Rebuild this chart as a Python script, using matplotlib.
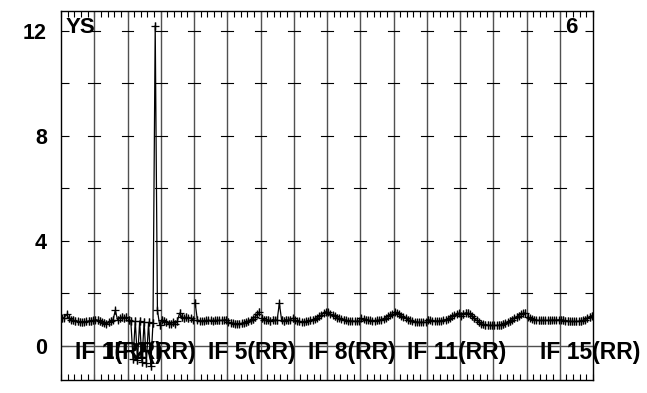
import matplotlib
matplotlib.use("Agg")
import matplotlib.pyplot as plt
import numpy as np

plt.rcParams['font.family'] = ['Liberation Sans', 'DejaVu Sans']
plt.rcParams['font.weight'] = 'bold'

# amplitude per channel for each IF (15 channels each)
if01 = [1.05, 1.08, 1.2, 1.05, 1.0, 0.98, 0.95, 0.93, 0.92, 0.9, 0.92, 0.93, 0.95, 0.95, 0.97]
if02 = [1.0, 0.98, 0.95, 0.9, 0.88, 0.85, 0.9, 0.95, 1.0, 1.35, 1.0, 1.05, 1.1, 1.05, 1.1]
if03 = [1.0, 0.95, -0.5, 0.95, -0.55, 0.95, -0.6, 0.92, -0.65, 0.9, -0.75, 0.88, 12.2, 1.35, 0.8]
if04 = [1.0, 0.95, 0.9, 0.85, 0.85, 0.9, 0.85, 0.95, 1.25, 1.1, 1.05, 1.1, 1.05, 1.05, 1.0]
if05 = [1.65, 1.0, 0.95, 0.95, 0.95, 0.97, 0.97, 0.97, 0.95, 0.97, 0.97, 0.97, 0.97, 0.98, 1.0]
if06 = [0.92, 0.88, 0.86, 0.85, 0.85, 0.85, 0.86, 0.88, 0.9, 0.93, 0.97, 1.03, 1.1, 1.2, 1.3]
if07 = [1.05, 1.0, 0.98, 1.0, 0.95, 1.0, 0.97, 0.98, 1.62, 1.0, 0.95, 1.0, 0.97, 1.0, 1.05]
if08 = [0.98, 0.95, 0.93, 0.92, 0.92, 0.93, 0.95, 0.97, 1.0, 1.03, 1.07, 1.12, 1.18, 1.25, 1.3]
if09 = [1.28, 1.22, 1.17, 1.12, 1.08, 1.05, 1.02, 1.0, 0.98, 0.96, 0.95, 0.95, 0.94, 0.94, 0.95]
if10 = [1.05, 1.02, 1.0, 0.98, 0.97, 0.96, 0.96, 0.97, 0.98, 1.0, 1.03, 1.07, 1.12, 1.18, 1.22]
if11 = [1.3, 1.25, 1.2, 1.15, 1.1, 1.05, 1.0, 0.97, 0.94, 0.92, 0.91, 0.9, 0.9, 0.9, 0.9]
if12 = [1.0, 0.98, 0.96, 0.95, 0.95, 0.95, 0.96, 0.98, 1.0, 1.03, 1.07, 1.12, 1.17, 1.22, 1.25]
if13 = [1.15, 1.22, 1.26, 1.25, 1.2, 1.12, 1.05, 0.97, 0.9, 0.85, 0.82, 0.8, 0.79, 0.78, 0.78]
if14 = [0.78, 0.78, 0.79, 0.8, 0.83, 0.86, 0.9, 0.95, 1.0, 1.05, 1.1, 1.15, 1.2, 1.24, 1.26]
if15 = [1.1, 1.05, 1.02, 1.0, 0.98, 0.97, 0.97, 0.97, 0.97, 0.97, 0.97, 0.98, 0.98, 0.98, 0.99]
if16 = [1.0, 0.98, 0.96, 0.95, 0.94, 0.93, 0.93, 0.93, 0.94, 0.95, 0.97, 1.0, 1.05, 1.1, 1.15]
if_errors = [0.14, 0.14, 0.15, 0.14, 0.12, 0.14, 0.14, 0.12, 0.12, 0.12, 0.12, 0.12, 0.14, 0.14, 0.12, 0.14]

if_data = [if01, if02, if03, if04, if05, if06, if07, if08,
           if09, if10, if11, if12, if13, if14, if15, if16]
labelled_ifs = [1, 2, 5, 8, 11, 15]
label_texts = ["IF 1(RR)", "IF 2(RR)", "IF 5(RR)", "IF 8(RR)", "IF 11(RR)", "IF 15(RR)"]
y_ticks = [0, 4, 8, 12]
y_minor = [2, 6, 10]
n_if = len(if_data)

fig = plt.figure(figsize=(6.47, 3.93), dpi=100)
ax = fig.add_axes([61/647, 13/393, 532/647, 369/393])
ax.set_xlim(0, n_if)
ax.set_ylim(-1.3, 12.76)

div_color = '#505050'
for k, vals in enumerate(if_data):
    n = len(vals)
    x = k + (np.arange(n) + 0.5) / n
    ax.errorbar(x, vals, yerr=if_errors[k], fmt='none', ecolor='#2a2a2a',
                elinewidth=1.0, capsize=0, zorder=3)
    ax.plot(x, vals, color='black', lw=0.9, marker='+', ms=6, mew=0.9, zorder=4)

# panel dividers and tick dashes on them
for k in range(1, n_if):
    ax.axvline(k, color=div_color, lw=1.0, zorder=2)
    for yv in y_minor + y_ticks[1:]:
        ax.plot([k - 0.18, k + 0.18], [yv, yv], color='black', lw=0.8, zorder=2)
ax.axhline(0, color=div_color, lw=1.0, zorder=2)

# ticks
xt = [k + m * 0.2 for k in range(n_if) for m in range(5)] + [n_if]
ax.set_xticks(xt)
ax.tick_params(axis='x', which='both', direction='in', top=True, bottom=True,
               length=4, width=0.8, labelbottom=False)
ax.set_yticks(y_ticks)
ax.set_yticks(y_minor, minor=True)
ax.tick_params(axis='y', which='both', direction='in', left=True, right=True,
               length=6, width=0.8, pad=10, labelsize=15.5)
for lab in ax.get_yticklabels():
    lab.set_fontweight('bold')
for sp in ax.spines.values():
    sp.set_linewidth(1.0)

# labels
for ifn, txt in zip(labelled_ifs, label_texts):
    ax.text(ifn - 1 + 0.42, -0.5, txt, fontsize=16.5, fontweight='bold',
            ha='left', va='baseline', zorder=5)
ax.text(0.008, 0.955, "YS", transform=ax.transAxes, fontsize=16, fontweight='bold',
        ha='left', va='center')
ax.text(0.97, 0.955, "6", transform=ax.transAxes, fontsize=16, fontweight='bold',
        ha='right', va='center')

fig.savefig("out.png", dpi=100)
